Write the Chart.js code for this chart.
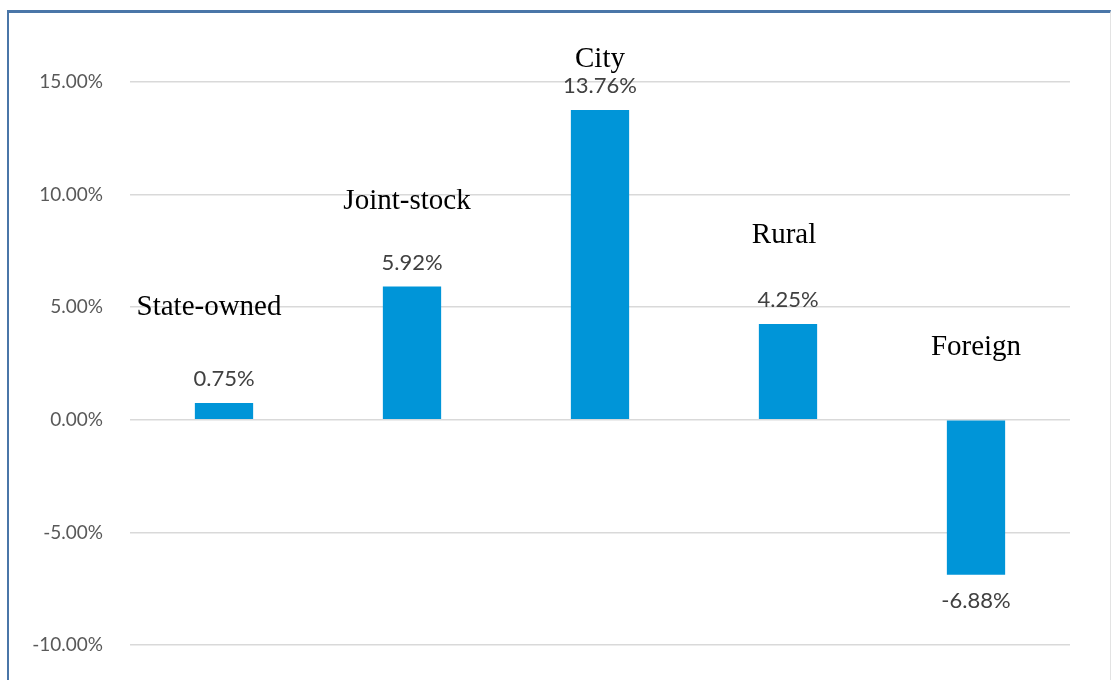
<!DOCTYPE html>
<html>
<head>
  <meta charset="utf-8">
  <title>Growth by bank type</title>
  <script src="https://cdn.jsdelivr.net/npm/chart.js"></script>
  <style>
    html, body {
      margin: 0;
      padding: 0;
      background: #fff;
      overflow: hidden;
    }
    .frame {
      position: absolute;
      left: 7px;
      top: 10px;
      width: 1104px;
      height: 670px;
      border-top: 3px solid #4a76a8;
      border-left: 2px solid #4a76a8;
      border-right: 1px solid #e3e3e3;
      box-sizing: border-box;
    }
    #bankChart {
      position: absolute;
      left: 0;
      top: 0;
    }
  </style>
</head>
<body>
<div class="frame"></div>
<canvas id="bankChart" width="1114" height="680"></canvas>

<script>
  // categories and values (percent)
  const bankTypes = ["State-owned", "Joint-stock", "City", "Rural", "Foreign"];
  const growthValues = [0.75, 5.92, 13.76, 4.25, -6.88];
  const valueLabels = ["0.75%", "5.92%", "13.76%", "4.25%", "-6.88%"];
  // level (in % units) where each bank-type caption sits
  const captionLevels = [4.66, 9.37, 15.67, 7.86, 2.89];
  const yTicks = [-10, -5, 0, 5, 10, 15];

  // draws the number over/under each bar and the serif caption
  const barText = {
    id: 'barText',
    afterDatasetsDraw(chart, args, opts) {
      const ctx = chart.ctx;
      const yScale = chart.scales.y;
      const bars = chart.getDatasetMeta(0).data;
      ctx.save();
      ctx.textAlign = 'center';
      bars.forEach(function(bar, i) {
        const v = growthValues[i];
        ctx.font = '22px Lato';
        ctx.fillStyle = '#404040';
        ctx.textBaseline = 'middle';
        const ty = v >= 0 ? bar.y - 24 : bar.y + 26;
        ctx.fillText(valueLabels[i], bar.x, ty);

        ctx.font = '29px "Liberation Serif"';
        ctx.fillStyle = '#000';
        ctx.textBaseline = 'alphabetic';
        ctx.fillText(bankTypes[i], bar.x + opts.shift[i], yScale.getPixelForValue(captionLevels[i]));
      });
      ctx.restore();
    }
  };

  const ctx = document.getElementById('bankChart').getContext('2d');
  const bankChart = new Chart(ctx, {
    type: 'bar',
    data: {
      labels: bankTypes,
      datasets: [{
        data: growthValues,
        backgroundColor: '#0095d8',
        barPercentage: 0.31,
        categoryPercentage: 1.0
      }]
    },
    options: {
      responsive: false,
      animation: false,
      layout: {
        padding: { left: 0, top: 82, right: 44, bottom: 35 }
      },
      plugins: {
        legend: { display: false },
        tooltip: { enabled: false },
        barText: { shift: [-15, -5, 0, -4, 0] }
      },
      scales: {
        x: {
          display: false
        },
        y: {
          min: -10,
          max: 15,
          afterFit: function(scale) { scale.width = 130; },
          afterBuildTicks: function(scale) {
            scale.ticks = yTicks.map(function(v) { return { value: v }; });
          },
          border: { display: false },
          grid: {
            color: '#d9d9d9',
            lineWidth: 1.5,
            drawTicks: true,
            tickLength: 23,
            tickColor: 'rgba(0,0,0,0)'
          },
          ticks: {
            padding: 4,
            color: '#595959',
            font: { family: 'Lato', size: 19 },
            callback: function(v) { return v.toFixed(2) + '%'; }
          }
        }
      }
    },
    plugins: [barText]
  });
</script>
</body>
</html>
